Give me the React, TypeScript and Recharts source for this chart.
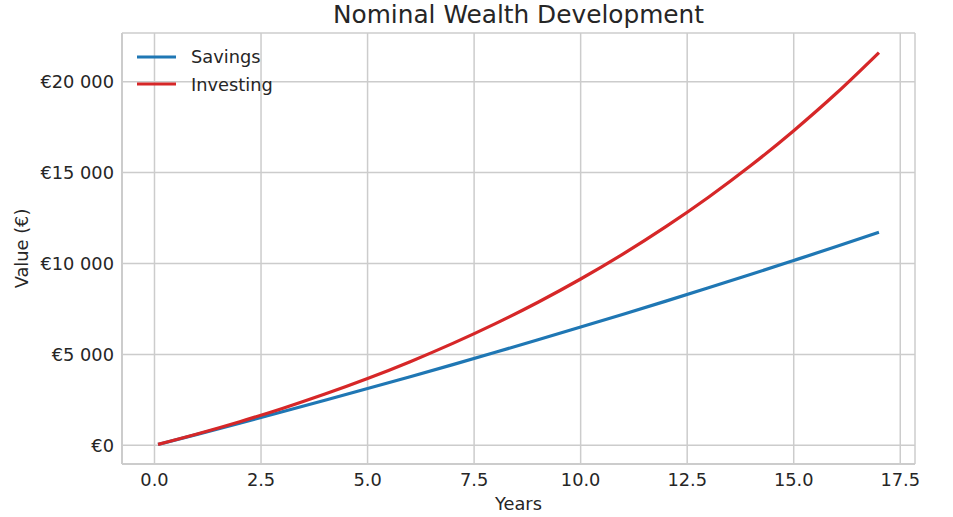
import React from 'react';
import { LineChart, Line, XAxis, YAxis, CartesianGrid, Legend, Customized } from 'recharts';

const years = [0.0833, 1, 2, 3, 4, 5, 6, 7, 8, 9, 10, 11, 12, 13, 14, 15, 16, 17];
const savings = [50, 604, 1218, 1843, 2477, 3121, 3775, 4440, 5117, 5804, 6503, 7212, 7932, 8664, 9407, 10166, 10932, 11714];
const investing = [50, 622, 1297, 2027, 2818, 3673, 4601, 5606, 6693, 7871, 9148, 10529, 12025, 13646, 15401, 17305, 19361, 21600];
const xTicks = [0, 2.5, 5, 7.5, 10, 12.5, 15, 17.5];
const yTicks = [0, 5000, 10000, 15000, 20000];
const xDomain = [-0.7625, 17.8458];
const yDomain = [-1027.5, 22677.5];

const series = [
  { key: 'savings', name: 'Savings', color: '#1f77b4' },
  { key: 'investing', name: 'Investing', color: '#d62728' },
];

const data = years.map((y, i) => ({ year: y, savings: savings[i], investing: investing[i] }));

const FONT = 'DejaVu Sans, sans-serif';
const TEXT = '#262626';
const GRID = '#cccccc';
const FS = 17.8;

const fmtEuro = (v: number) => {
  if (v === 0) return '€0';
  const th = Math.floor(v / 1000);
  const rest = String(v % 1000).padStart(3, '0');
  return `€${th} ${rest}`;
};

const renderLegend = () => (
  <div style={{ fontFamily: FONT, fontSize: FS, color: TEXT }}>
    {series.map((s) => (
      <div key={s.key} style={{ display: 'flex', alignItems: 'center', height: 27.6 }}>
        <svg width={39} height={4} style={{ display: 'block' }}>
          <line x1={0} y1={2} x2={39} y2={2} stroke={s.color} strokeWidth={3.2} />
        </svg>
        <span style={{ marginLeft: 15, whiteSpace: 'nowrap' }}>{s.name}</span>
      </div>
    ))}
  </div>
);

const Texts = () => (
  <g fontFamily={FONT} fill={TEXT}>
    <text x={518.5} y={23} fontSize={24.8} textAnchor="middle" fill={TEXT}>Nominal Wealth Development</text>
    <text x={518.5} y={510} fontSize={FS} textAnchor="middle" fill={TEXT}>Years</text>
    <text x={28} y={248.5} fontSize={FS} textAnchor="middle" fill={TEXT} transform="rotate(-90, 28, 248.5)">Value (€)</text>
  </g>
);

export default function App() {
  return (
    <div style={{ position: 'absolute', left: 0, top: 0, background: '#fff' }}>
      <LineChart width={953} height={517} data={data} margin={{ top: 33, right: 38, bottom: 23, left: 42 }}>
        <CartesianGrid stroke={GRID} strokeWidth={1.5} />
        <XAxis
          dataKey="year"
          type="number"
          domain={xDomain}
          ticks={xTicks}
          allowDataOverflow
          height={30}
          tickSize={0}
          tickMargin={9}
          tickFormatter={(v: number) => v.toFixed(1)}
          tick={{ fill: TEXT, fontSize: FS, fontFamily: FONT }}
          axisLine={{ stroke: GRID, strokeWidth: 2 }}
          tickLine={false}
        />
        <XAxis
          xAxisId="top"
          orientation="top"
          type="number"
          domain={xDomain}
          allowDataOverflow
          height={0}
          tick={false}
          tickLine={false}
          axisLine={{ stroke: GRID, strokeWidth: 2 }}
        />
        <YAxis
          type="number"
          domain={yDomain}
          ticks={yTicks}
          allowDataOverflow
          width={80}
          tickSize={0}
          tickMargin={8}
          tickFormatter={fmtEuro}
          tick={{ fill: TEXT, fontSize: FS, fontFamily: FONT }}
          axisLine={{ stroke: GRID, strokeWidth: 2 }}
          tickLine={false}
        />
        <YAxis
          yAxisId="right"
          orientation="right"
          type="number"
          domain={yDomain}
          allowDataOverflow
          width={0}
          tick={false}
          tickLine={false}
          axisLine={{ stroke: GRID, strokeWidth: 2 }}
        />
        <Legend
          layout="vertical"
          align="center"
          verticalAlign="middle"
          wrapperStyle={{ left: 137, top: 43, width: 'auto' }}
          content={renderLegend}
        />
        {series.map((s) => (
          <Line
            key={s.key}
            dataKey={s.key}
            name={s.name}
            type="monotone"
            stroke={s.color}
            strokeWidth={3.2}
            dot={false}
            isAnimationActive={false}
          />
        ))}
        <Customized component={Texts} />
      </LineChart>
    </div>
  );
}
